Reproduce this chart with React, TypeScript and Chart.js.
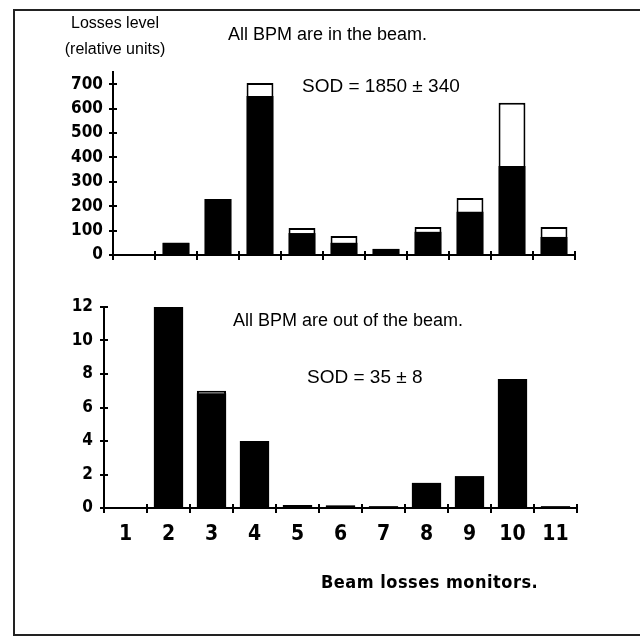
import React, { useEffect, useRef } from "react";
import { Chart, registerables } from "chart.js";

Chart.register(...registerables);

// ---- data ----
const categories = ["1", "2", "3", "4", "5", "6", "7", "8", "9", "10", "11"];
// upper panel: all BPM in the beam
const inBeamBlack = [0, 50, 230, 652, 90, 50, 25, 95, 177, 365, 74];
const inBeamTotal = [0, 50, 230, 705, 111, 78, 25, 115, 234, 624, 115];
// lower panel: all BPM out of the beam
const outBeamBlack = [0, 12, 6.85, 4, 0.18, 0.15, 0.1, 1.5, 1.9, 7.7, 0.1];
const outBeamTotal = [0, 12, 7.0, 4, 0.18, 0.15, 0.1, 1.5, 1.9, 7.7, 0.1];

const topAxis = { min: 0, max: 750, step: 100, lastTick: 700 };
const bottomAxis = { min: 0, max: 12, step: 2, lastTick: 12 };

const tickFont = "'DejaVu Sans Condensed', 'Liberation Sans Narrow', sans-serif";
const textFont = "'Liberation Sans', Arial, sans-serif";

const crossTicks = {
  id: "crossTicks",
  afterDatasetsDraw(chart: any) {
    const { ctx } = chart;
    const x = chart.scales.x;
    const y = chart.scales.y;
    ctx.save();
    ctx.strokeStyle = "#000";
    ctx.lineWidth = 2;
    const ax = x.left;
    y.ticks.forEach((t: any) => {
      const py = Math.round(y.getPixelForValue(t.value));
      ctx.beginPath();
      ctx.moveTo(ax - 4, py);
      ctx.lineTo(ax + 4, py);
      ctx.stroke();
    });
    const n = categories.length;
    const w = x.getPixelForValue(1) - x.getPixelForValue(0);
    const by = y.getPixelForValue(0);
    for (let i = 0; i <= n; i++) {
      const px = Math.round(
        i < n ? x.getPixelForValue(i) - w / 2 : x.getPixelForValue(n - 1) + w / 2
      );
      ctx.beginPath();
      ctx.moveTo(px, by - 4);
      ctx.lineTo(px, by + 5);
      ctx.stroke();
    }
    ctx.restore();
  },
};

function makeConfig(
  black: number[],
  total: number[],
  axis: { min: number; max: number; step: number; lastTick: number },
  opts: {
    yWidth: number;
    xHeight: number;
    padTop: number;
    padRight: number;
    barPct: number;
    showX: boolean;
    yPad: number;
  }
): any {
  return {
    type: "bar",
    data: {
      labels: categories,
      datasets: [
        {
          label: "black",
          data: black,
          backgroundColor: "#000",
          borderWidth: 0,
          order: 0,
        },
        {
          label: "total",
          data: total,
          backgroundColor: "#fff",
          borderColor: "#000",
          borderWidth: 2,
          borderSkipped: "bottom",
          order: 1,
        },
      ],
    },
    options: {
      responsive: false,
      animation: false,
      devicePixelRatio: 1,
      layout: { padding: { top: opts.padTop, right: opts.padRight, left: 0, bottom: 0 } },
      datasets: {
        bar: { categoryPercentage: 1, barPercentage: opts.barPct },
      },
      plugins: {
        legend: { display: false },
        tooltip: { enabled: false },
        title: { display: false },
      },
      scales: {
        x: {
          stacked: true,
          grid: { display: false, drawTicks: false },
          border: { display: true, color: "#000", width: 2 },
          ticks: {
            display: opts.showX,
            color: "#000",
            font: { family: tickFont, size: 21, weight: "bold" },
            padding: 14,
            maxRotation: 0,
            autoSkip: false,
          },
          afterFit: (s: any) => {
            s.height = opts.xHeight;
            s.paddingLeft = 0;
            s.paddingRight = 0;
          },
        },
        y: {
          stacked: false,
          min: axis.min,
          max: axis.max,
          grid: { display: false, drawTicks: false },
          border: { display: true, color: "#000", width: 2 },
          ticks: {
            stepSize: axis.step,
            color: "#000",
            autoSkip: false,
            font: { family: tickFont, size: 17, weight: "bold" },
            padding: opts.yPad,
          },
          afterBuildTicks: (s: any) => {
            const t: any[] = [];
            for (let v = axis.min; v <= axis.lastTick + 1e-9; v += axis.step) t.push({ value: v });
            s.ticks = t;
          },
          afterFit: (s: any) => {
            s.width = opts.yWidth;
            s.paddingTop = 0;
            s.paddingBottom = 0;
          },
        },
      },
    },
    plugins: [crossTicks],
  };
}

function BarPanel(props: {
  black: number[];
  total: number[];
  axis: { min: number; max: number; step: number; lastTick: number };
  left: number;
  top: number;
  width: number;
  height: number;
  yWidth: number;
  xHeight: number;
  padTop: number;
  padRight: number;
  barPct: number;
  showX: boolean;
  yPad: number;
}) {
  const ref = useRef<HTMLCanvasElement | null>(null);
  useEffect(() => {
    if (!ref.current) return;
    const chart = new Chart(
      ref.current,
      makeConfig(props.black, props.total, props.axis, {
        yWidth: props.yWidth,
        xHeight: props.xHeight,
        padTop: props.padTop,
        padRight: props.padRight,
        barPct: props.barPct,
        showX: props.showX,
        yPad: props.yPad,
      })
    );
    return () => chart.destroy();
  }, []);
  return (
    <canvas
      ref={ref}
      width={props.width}
      height={props.height}
      style={{
        position: "absolute",
        left: props.left,
        top: props.top,
        width: props.width,
        height: props.height,
      }}
    />
  );
}

// page coordinates -> container coordinates (body margin 8px)
const P = (v: number) => v - 8;

function Label(props: {
  text: string;
  x: number;
  y: number;
  size: number;
  family: string;
  bold?: boolean;
  center?: boolean;
  spacing?: number;
}) {
  return (
    <div
      style={{
        position: "absolute",
        left: P(props.x),
        top: P(props.y),
        transform: props.center ? "translate(-50%, -50%)" : "translateY(-50%)",
        fontFamily: props.family,
        fontSize: props.size,
        fontWeight: props.bold ? "bold" : "normal",
        letterSpacing: props.spacing || 0,
        lineHeight: 1,
        whiteSpace: "nowrap",
        color: "#000",
      }}
    >
      {props.text}
    </div>
  );
}

export default function App() {
  return (
    <div
      style={{
        position: "relative",
        width: 624,
        height: 624,
        background: "#fff",
        overflow: "hidden",
      }}
    >
      <div
        style={{
          position: "fixed",
          left: 13,
          top: 9,
          width: 640,
          height: 627,
          borderLeft: "2px solid #222",
          borderTop: "2px solid #222",
          borderBottom: "2px solid #222",
          boxSizing: "border-box",
        }}
      />
      <BarPanel
        black={inBeamBlack}
        total={inBeamTotal}
        axis={topAxis}
        left={P(60)}
        top={P(60)}
        width={540}
        height={210}
        yWidth={53}
        xHeight={15}
        padTop={12}
        padRight={25}
        barPct={0.64}
        showX={false}
        yPad={10}
      />
      <BarPanel
        black={outBeamBlack}
        total={outBeamTotal}
        axis={bottomAxis}
        left={P(60)}
        top={P(290)}
        width={540}
        height={260}
        yWidth={44}
        xHeight={42}
        padTop={17}
        padRight={23}
        barPct={0.68}
        showX={true}
        yPad={11}
      />
      <Label text="Losses level" x={115} y={23} size={16} family="'Liberation Sans Narrow', sans-serif" center />
      <Label text="(relative units)" x={115} y={49} size={16} family="'Liberation Sans Narrow', sans-serif" center />
      <Label text="All  BPM are in the beam." x={228} y={34} size={18} family={textFont} />
      <Label text="SOD = 1850 ± 340" x={302} y={85} size={19} family={textFont} />
      <Label text="All  BPM are out of the beam." x={233} y={320} size={18} family={textFont} />
      <Label text="SOD = 35 ± 8" x={307} y={376} size={19} family={textFont} />
      <Label text="Beam losses monitors." x={321} y={582} size={18} family={tickFont} bold spacing={0.5} />
    </div>
  );
}
